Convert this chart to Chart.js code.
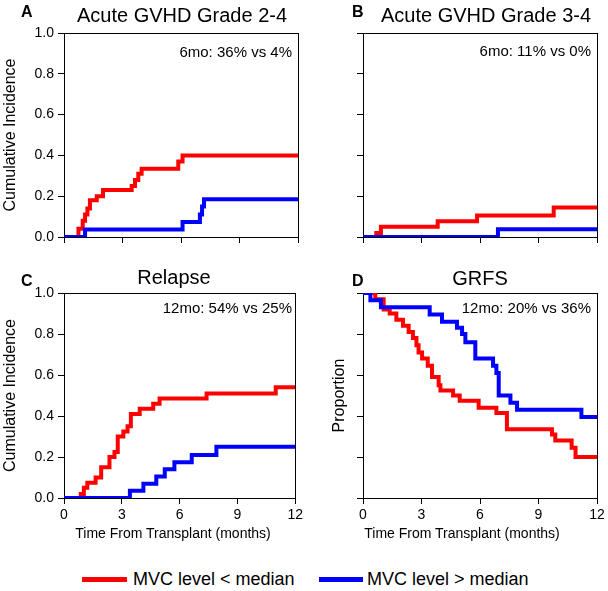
<!DOCTYPE html>
<html>
<head>
<meta charset="utf-8">
<script src="https://cdn.jsdelivr.net/npm/chart.js@4.4.1/dist/chart.umd.min.js"></script>
<style>
  body { margin: 0; background: #fff; }
  #wrap { position: relative; width: 608px; height: 591px; overflow: hidden; font-family: 'Liberation Sans', Arial, Helvetica, sans-serif; color: #000; }
  canvas { position: absolute; }
  .txt { position: absolute; white-space: nowrap; }
  .swatch { position: absolute; height: 5px; }
</style>
</head>
<body>
<div id="wrap">
  <canvas id="chartA" width="304" height="260" style="left:0;top:0"></canvas>
  <canvas id="chartB" width="304" height="260" style="left:304px;top:0"></canvas>
  <canvas id="chartC" width="306" height="270" style="left:0;top:260px"></canvas>
  <canvas id="chartD" width="304" height="270" style="left:304px;top:260px"></canvas>
</div>
<script>
// Axis ticks
const xTicks = [0, 3, 6, 9, 12];
const yTicks = [0, 0.2, 0.4, 0.6, 0.8, 1.0];

// Series labels
const seriesLabels = ["MVC level < median", "MVC level > median"];

// A: Acute GVHD Grade 2-4 (time in months, cumulative incidence)
const aRedT = [0, 0.74, 0.96, 1.08, 1.2, 1.33, 1.68, 2.0, 3.47, 3.64, 3.81, 3.98, 5.86, 6.08, 12];
const aRedY = [0, 0.04, 0.08, 0.11, 0.14, 0.18, 0.20, 0.23, 0.25, 0.28, 0.31, 0.335, 0.37, 0.40, 0.40];
const aBlueT = [0, 1.08, 6.08, 6.97, 7.08, 7.18, 12];
const aBlueY = [0, 0.037, 0.074, 0.11, 0.15, 0.185, 0.185];

// B: Acute GVHD Grade 3-4
const bRedT = [0, 0.68, 0.92, 3.83, 5.85, 9.78, 12];
const bRedY = [0, 0.02, 0.05, 0.077, 0.105, 0.145, 0.145];
const bBlueT = [0, 6.92, 12];
const bBlueY = [0, 0.038, 0.038];

// C: Relapse
const cRedT = [0, 0.87, 1.03, 1.21, 1.64, 1.93, 2.36, 2.62, 2.79, 3.08, 3.30, 3.47, 3.93, 4.63, 4.96, 7.40, 10.99, 12];
const cRedY = [0, 0.02, 0.05, 0.075, 0.10, 0.15, 0.20, 0.225, 0.30, 0.325, 0.35, 0.41, 0.435, 0.46, 0.485, 0.51, 0.54, 0.54];
const cBlueT = [0, 3.42, 4.12, 4.79, 5.23, 5.73, 6.63, 7.91, 12];
const cBlueY = [0, 0.035, 0.07, 0.105, 0.14, 0.175, 0.21, 0.25, 0.25];

// D: GRFS (proportion)
const dRedT = [0, 0.63, 1.06, 1.37, 1.71, 2.05, 2.34, 2.56, 2.74, 2.85, 3.03, 3.32, 3.54, 3.88, 3.97, 4.62, 4.96, 5.93, 6.84, 7.38, 9.69, 9.86, 10.7, 10.9, 12];
const dRedY = [1, 0.97, 0.92, 0.90, 0.87, 0.84, 0.81, 0.78, 0.745, 0.71, 0.68, 0.645, 0.59, 0.55, 0.525, 0.50, 0.475, 0.44, 0.415, 0.335, 0.31, 0.28, 0.245, 0.20, 0.20];
const dBlueT = [0, 0.38, 0.92, 3.42, 4.05, 4.82, 5.08, 5.25, 5.76, 6.67, 6.84, 6.96, 7.56, 7.90, 11.2, 12];
const dBlueY = [1, 0.965, 0.93, 0.895, 0.86, 0.83, 0.80, 0.76, 0.68, 0.645, 0.61, 0.50, 0.465, 0.43, 0.395, 0.395];

const FONT = "'Liberation Sans', Arial, Helvetica, sans-serif";
Chart.defaults.font.family = FONT;
Chart.defaults.color = "#000";

const RED = "#ff0000";
const BLUE = "#0000ff";

function toPoints(ts, ys) {
    return ts.map((t, i) => ({ x: t, y: ys[i] }));
}

// Box around the plot area, drawn under the curves
const framePlugin = {
    id: "frame",
    beforeDatasetsDraw(chart) {
        const { ctx, chartArea: a } = chart;
        ctx.save();
        ctx.strokeStyle = "#000";
        ctx.lineWidth = 1;
        ctx.strokeRect(Math.round(a.left) + 0.5, Math.round(a.top) + 0.5,
            Math.round(a.right - a.left), Math.round(a.bottom - a.top));
        ctx.restore();
    },
};

// Build one panel
function makePanel(id, cfg) {
    const ctx = document.getElementById(id);
    return new Chart(ctx, {
        type: "line",
        data: {
            datasets: [
                {
                    label: seriesLabels[0],
                    data: toPoints(cfg.redT, cfg.redY),
                    borderColor: RED,
                    order: 1,
                },
                {
                    label: seriesLabels[1],
                    data: toPoints(cfg.blueT, cfg.blueY),
                    borderColor: BLUE,
                    order: 0,
                },
            ],
        },
        options: {
            responsive: false,
            animation: false,
            events: [],
            layout: {
                padding: { top: 33, right: cfg.padRight, left: 0, bottom: 0 },
            },
            elements: {
                line: {
                    borderWidth: 4,
                    stepped: "before",
                    tension: 0,
                    fill: false,
                    borderCapStyle: "butt",
                    borderJoinStyle: "miter",
                },
                point: { radius: 0 },
            },
            plugins: {
                legend: { display: false },
                tooltip: { enabled: false },
            },
            scales: {
                x: {
                    type: "linear",
                    min: 0,
                    max: 12,
                    afterBuildTicks: (s) => { s.ticks = xTicks.map((v) => ({ value: v })); },
                    afterFit: (s) => { s.height = cfg.xHeight; },
                    ticks: {
                        display: cfg.xLabels,
                        padding: 3,
                        font: { size: 14 },
                        maxRotation: 0,
                        callback: (v) => String(v),
                    },
                    grid: {
                        drawOnChartArea: false,
                        drawTicks: true,
                        tickLength: 6,
                        color: "#000",
                    },
                    border: { display: true, color: "#000", width: 1 },
                },
                y: {
                    type: "linear",
                    min: 0,
                    max: 1,
                    afterBuildTicks: (s) => { s.ticks = yTicks.map((v) => ({ value: v })); },
                    afterFit: (s) => { s.width = cfg.yWidth; },
                    ticks: {
                        display: cfg.yLabels,
                        padding: 4,
                        font: { size: 14 },
                        callback: (v) => v.toFixed(1),
                    },
                    grid: {
                        drawOnChartArea: false,
                        drawTicks: true,
                        tickLength: 6,
                        color: "#000",
                    },
                    border: { display: true, color: "#000", width: 1 },
                    title: {
                        display: !!cfg.yTitle,
                        text: cfg.yTitle || "",
                        font: { size: 16 },
                        padding: { top: cfg.yTitlePad, bottom: 0 },
                    },
                },
            },
        },
        plugins: [framePlugin],
    });
}

makePanel("chartA", {
    redT: aRedT, redY: aRedY, blueT: aBlueT, blueY: aBlueY,
    padRight: 6, yWidth: 64, xHeight: 23, xLabels: false, yLabels: true,
    yTitle: "Cumulative Incidence", yTitlePad: 1,
});
makePanel("chartB", {
    redT: bRedT, redY: bRedY, blueT: bBlueT, blueY: bBlueY,
    padRight: 11, yWidth: 59, xHeight: 23, xLabels: false, yLabels: false,
});
makePanel("chartC", {
    redT: cRedT, redY: cRedY, blueT: cBlueT, blueY: cBlueY,
    padRight: 8, yWidth: 64, xHeight: 32, xLabels: true, yLabels: true,
    yTitle: "Cumulative Incidence", yTitlePad: 1,
});
makePanel("chartD", {
    redT: dRedT, redY: dRedY, blueT: dBlueT, blueY: dBlueY,
    padRight: 11, yWidth: 59, xHeight: 32, xLabels: true, yLabels: false,
    yTitle: "Proportion", yTitlePad: 26,
});

// Text placed by baseline
const wrap = document.getElementById("wrap");
function addText(text, x, baseline, size, align, bold) {
    const d = document.createElement("div");
    d.className = "txt";
    d.textContent = text;
    d.style.font = (bold ? "bold " : "") + size + "px " + FONT;
    d.style.lineHeight = size + "px";
    d.style.top = (baseline - 0.8465 * size) + "px";
    if (align === "right") {
        d.style.right = (608 - x) + "px";
    } else if (align === "center") {
        d.style.left = x + "px";
        d.style.transform = "translateX(-50%)";
    } else {
        d.style.left = x + "px";
    }
    wrap.appendChild(d);
}

// Panel letters and titles
addText("A", 21, 18, 16, "left", true);
addText("B", 352, 18, 16, "left", true);
addText("C", 21, 287, 16, "left", true);
addText("D", 352, 287, 16, "left", true);
addText("Acute GVHD Grade 2-4", 182, 22, 20, "center");
addText("Acute GVHD Grade 3-4", 486, 22, 20, "center");
addText("Relapse", 174, 284, 20, "center");
addText("GRFS", 480, 285, 20, "center");

// Landmark estimates
addText("6mo: 36% vs 4%", 292, 57, 15, "right");
addText("6mo: 11% vs 0%", 591, 56, 15, "right");
addText("12mo: 54% vs 25%", 292, 313, 15, "right");
addText("12mo: 20% vs 36%", 591, 313, 15, "right");

// X axis titles
addText("Time From Transplant (months)", 173, 538, 14, "center");
addText("Time From Transplant (months)", 462, 538, 14, "center");

// Legend
function addSwatch(color, x0, x1, yc) {
    const s = document.createElement("div");
    s.className = "swatch";
    s.style.background = color;
    s.style.left = x0 + "px";
    s.style.width = (x1 - x0) + "px";
    s.style.top = (yc - 2.5) + "px";
    wrap.appendChild(s);
}
addSwatch(RED, 82, 127, 579);
addText(seriesLabels[0], 133, 585, 18, "left");
addSwatch(BLUE, 319, 363, 579);
addText(seriesLabels[1], 367, 585, 18, "left");
</script>
</body>
</html>
